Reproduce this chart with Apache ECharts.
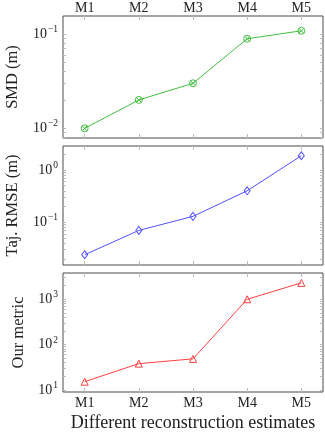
<!DOCTYPE html>
<html lang="en">
<head>
    <meta charset="utf-8">
    <script src="https://cdn.jsdelivr.net/npm/echarts@6.0.0/dist/echarts.min.js"></script>
    <style>
        html, body { margin:0; padding:0; background:#fff; }
        #main { width:325px; height:434px; }
    </style>
</head>
<body>
<div id="main"></div>
<script type="text/javascript">
    // data
    var methods = ['M1', 'M2', 'M3', 'M4', 'M5'];
    var smd = [0.01, 0.02, 0.03, 0.089, 0.108];
    var trajRmse = [0.024, 0.07, 0.13, 0.4, 1.87];
    var ourMetric = [15.2, 38, 48.5, 1000, 2300];
    var smdLabels = [0.01, 0.1];
    var rmseLabels = [0.1, 1];
    var metricLabels = [10, 100, 1000];

    var FONT = '"Liberation Serif", "DejaVu Serif", serif';
    var TXT = '#222';

    function minorTicks(lo, hi) {
        var out = [];
        for (var e = lo; e <= hi; e++) {
            for (var k = 1; k <= 9; k++) out.push(k * Math.pow(10, e));
        }
        return out;
    }

    function powLabel(v) {
        var e = Math.round(Math.log10(v));
        return '10{sup|' + (e < 0 ? '\u2212' + (-e) : e) + '}';
    }

    var panels = [
        {top: 16, height: 122, name: 'SMD (m)', nameGap: 42, data: smd, labels: smdLabels,
         min: 0.0079, max: 0.155, ticks: minorTicks(-3, -1), color: '#40bf40',
         symbol: 'path://M0,10A10,10 0 1,1 20,10A10,10 0 1,1 0,10ZM3,3L17,17M17,3L3,17', size: 7},
        {top: 146, height: 119, name: 'Taj. RMSE (m)', nameGap: 42, data: trajRmse, labels: rmseLabels,
         min: 0.0153, max: 2.87, ticks: minorTicks(-2, 0), color: '#5050ff',
         symbol: 'diamond', size: [6, 8]},
        {top: 273, height: 119, name: 'Our metric', nameGap: 32, data: ourMetric, labels: metricLabels,
         min: 9.0, max: 3800, ticks: minorTicks(1, 3), color: '#ff4040',
         symbol: 'triangle', size: 7}
    ];

    var grids = [], xAxes = [], yAxes = [], series = [];
    var xIdx = [1, 2, 3, 4, 5];

    panels.forEach(function (p, i) {
        grids.push({left: 63, width: 260, top: p.top, height: p.height,
            show: true, borderColor: '#4a4a4a', borderWidth: 1,
            containLabel: false, outerBoundsMode: 'none'});

        ['bottom', 'top'].forEach(function (pos) {
            var showLabel = (i === 0 && pos === 'top') || (i === 2 && pos === 'bottom');
            xAxes.push({
                type: 'value', gridIndex: i, position: pos, min: 0.6, max: 5.4,
                name: (i === 2 && pos === 'bottom') ? 'Different reconstruction estimates' : '',
                nameLocation: 'middle', nameGap: 22,
                nameTextStyle: {fontFamily: FONT, fontSize: 18, color: TXT},
                axisLine: {show: false},
                splitLine: {show: false},
                axisTick: {show: true, inside: true, length: 4, customValues: xIdx,
                    lineStyle: {color: '#bbbbbb'}},
                axisLabel: {show: showLabel, customValues: xIdx, margin: pos === 'top' ? 1 : 4,
                    fontFamily: FONT, fontSize: 14, color: TXT,
                    formatter: function (v) { return methods[Math.round(v) - 1]; }}
            });
        });

        ['left', 'right'].forEach(function (pos) {
            yAxes.push({
                type: 'log', logBase: 10, gridIndex: i, position: pos,
                min: p.min, max: p.max,
                name: pos === 'left' ? p.name : '',
                nameLocation: 'middle', nameGap: p.nameGap, nameRotate: 90,
                nameTextStyle: {fontFamily: FONT, fontSize: 16.5, color: TXT},
                axisLine: {show: false},
                splitLine: {show: false},
                axisTick: {show: true, inside: true, length: 3, customValues: p.ticks,
                    lineStyle: {color: '#bbbbbb'}},
                axisLabel: {show: pos === 'left', customValues: p.labels, margin: 5,
                    fontFamily: FONT, fontSize: 14, color: TXT,
                    formatter: powLabel,
                    rich: {sup: {fontFamily: FONT, fontSize: 9.5, verticalAlign: 'top',
                        padding: [0, 0, 9, 1], color: TXT}}}
            });
        });

        series.push({
            type: 'line', xAxisIndex: i * 2, yAxisIndex: i * 2,
            data: p.data.map(function (v, k) { return [xIdx[k], v]; }),
            symbol: p.symbol, symbolSize: p.size, showSymbol: true,
            lineStyle: {color: p.color, width: 1},
            itemStyle: {color: 'rgba(255,255,255,0)', borderColor: p.color, borderWidth: 1},
            silent: true, animation: false
        });
    });

    var myChart = echarts.init(document.getElementById('main'));
    myChart.setOption({
        animation: false,
        grid: grids,
        xAxis: xAxes,
        yAxis: yAxes,
        series: series
    });
</script>
</body>
</html>
